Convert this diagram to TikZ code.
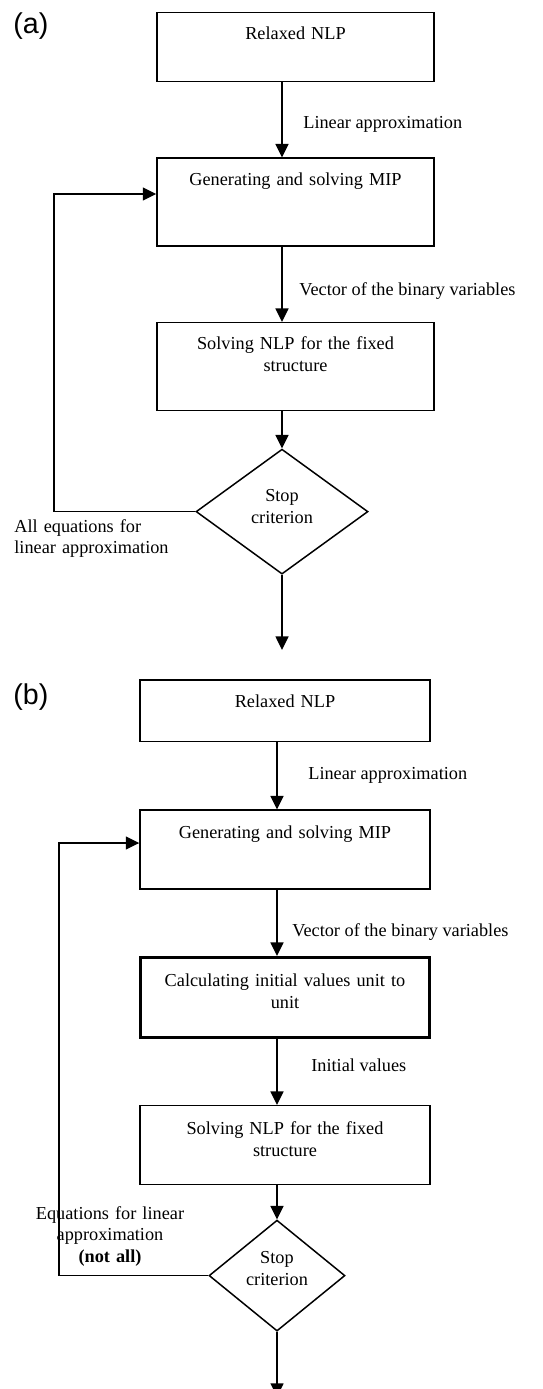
\documentclass[tikz,border=0pt]{standalone}
\usepackage{fontspec}
\setmainfont{Liberation Serif}
\newfontfamily\panelfont{Liberation Sans}
\usetikzlibrary{arrows.meta}
\usetikzlibrary{shapes.geometric, positioning}

\begin{document}
\begin{tikzpicture}[
        x=0.02cm, y=-0.02cm, % one unit = one pixel of the layout, y downwards
        font=\fontsize{10.4}{12.5}\selectfont,
        box/.style={draw, line width=0.85pt, inner xsep=0pt, inner ysep=0pt, text width=5.2cm, align=center},
        boxA/.style={box, minimum width=5.54cm, text height=0.54cm},
        boxB/.style={box, minimum width=5.80cm, text height=0.56cm},
        decision/.style={diamond, draw, line width=0.85pt, inner sep=0pt, text width=1.3cm, align=center, text height=0.26cm},
        arrow/.style={-{Triangle[length=0.27cm, width=0.26cm]}, line width=0.85pt},
        note/.style={inner sep=0pt},
        tag/.style={inner sep=0pt, font=\panelfont\fontsize{16.3}{19}\selectfont}
    ]
    \useasboundingbox (0,0) rectangle (542,1389);

        % --- PANEL (a) ---
        \node[tag, anchor=base west] (tagA) at (13,34) {(a)};
        \node[boxA, anchor=north, text depth=0.84cm] (relaxA) at (295.5,12) {Relaxed NLP};
        \node[boxA, below=1.5cm of relaxA, text depth=1.22cm] (mipA) {Generating and solving MIP};
        \node[boxA, below=1.5cm of mipA, text depth=1.22cm] (solveA) {Solving NLP for the fixed\\structure};
        \node[decision, below=0.74cm of solveA, xshift=-0.27cm, aspect=1.376, minimum width=3.44cm, minimum height=2.5cm, text depth=0.66cm] (stopA) {Stop\\criterion};
        \coordinate[below=1.5cm of stopA.south] (endA);
        \coordinate (loopA) at (54,194);

        \draw[arrow] (relaxA.south -| stopA.north) -- (mipA.north -| stopA.north);
        \draw[arrow] (mipA.south -| stopA.north) -- (solveA.north -| stopA.north);
        \draw[arrow] (solveA.south -| stopA.north) -- (stopA.north);
        \draw[arrow] (stopA.south) -- (endA);
        % feedback loop
        \draw[arrow] (stopA.west) -| (loopA) -- (loopA -| mipA.west);

        \node[note, anchor=base west] (linA) at (303,129) {Linear approximation};
        \node[note, anchor=base west] (vecA) at (299,295) {Vector of the binary variables};
        \node[note, anchor=base west, text width=4cm, align=left] (allA) at (14,532) {All equations for\\linear approximation};

        % --- PANEL (b) ---
        \node[tag, anchor=base west] (tagB) at (13,704) {(b)};
        \node[boxB, anchor=north, text depth=0.68cm] (relaxB) at (285,679) {Relaxed NLP};
        \node[boxB, below=1.34cm of relaxB, text depth=1.02cm] (mipB) {Generating and solving MIP};
        \node[boxB, below=1.32cm of mipB, line width=1.7pt, text height=0.58cm, text depth=1.02cm] (calcB) {Calculating initial values unit to\\unit};
        \node[boxB, below=1.32cm of calcB, text height=0.58cm, text depth=1.0cm] (solveB) {Solving NLP for the fixed\\structure};
        \node[decision, below=0.68cm of solveB, xshift=-0.16cm, aspect=1.225, minimum width=2.72cm, minimum height=2.22cm, text depth=0.74cm] (stopB) {Stop\\criterion};
        \coordinate[below=1.3cm of stopB.south] (endB);
        \coordinate (loopB) at (59,843);

        \draw[arrow] (relaxB.south -| stopB.north) -- (mipB.north -| stopB.north);
        \draw[arrow] (mipB.south -| stopB.north) -- (calcB.north -| stopB.north);
        \draw[arrow] (calcB.south -| stopB.north) -- (solveB.north -| stopB.north);
        \draw[arrow] (solveB.south -| stopB.north) -- (stopB.north);
        \draw[arrow] (stopB.south) -- (endB);
        % feedback loop
        \draw[arrow] (stopB.west) -| (loopB) -- (loopB -| mipB.west);

        \node[note, anchor=base west] (linB) at (308,779) {Linear approximation};
        \node[note, anchor=base west] (vecB) at (292,936) {Vector of the binary variables};
        \node[note, anchor=base west] (iniB) at (311,1071) {Initial values};
        \node[note, anchor=base, text width=4cm, align=center] (eqB) at (110,1219) {Equations for linear\\approximation\\\textbf{(not all)}};
    \end{tikzpicture}
\end{document}
